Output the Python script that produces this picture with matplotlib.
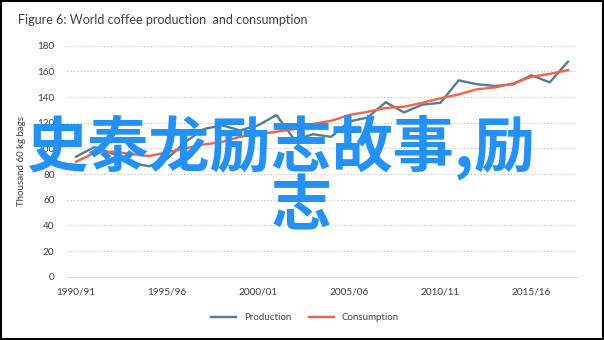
import matplotlib
matplotlib.use("Agg")
import matplotlib.pyplot as plt
import numpy as np

plt.rcParams["font.family"] = ["Lato", "DejaVu Sans"]

SEASONS = [f"{y}/{str(y + 1)[-2:]}" for y in range(1990, 2018)]
PRODUCTION = [93.5, 101, 96, 89, 86, 92, 105, 115, 118, 114, 118, 126, 106.5, 111,
              109, 121, 124, 136, 128, 134, 135.5, 153, 150, 148.6, 150, 157, 151.4, 167.5]
CONSUMPTION = [89.6, 96.5, 97.5, 95.6, 94, 97, 100, 103, 105, 109, 111, 113, 115, 119,
               121.5, 126, 128.5, 131.5, 132.4, 135.5, 139, 142, 146, 147.5, 150.7, 155.8, 158, 161]
YTICKS = [0, 20, 40, 60, 80, 100, 120, 140, 160, 180]
TICK_LABELS = ["1990/91", "1995/96", "2000/01", "2005/06", "2010/11", "2015/16"]

PROD_C, CONS_C, TXT = "#527f8e", "#f6624b", "#404040"

fig = plt.figure(figsize=(6.04, 3.4), dpi=100)
ax = fig.add_axes([67 / 604, 1 - 276.7 / 340, 510 / 604, 231 / 340])

x = np.arange(len(SEASONS))
ax.plot(x, PRODUCTION, color=PROD_C, lw=1.7, label="Production")
ax.plot(x, CONSUMPTION, color=CONS_C, lw=1.7, label="Consumption")

ax.set_xlim(-0.5, len(SEASONS) - 0.5)
ax.set_ylim(0, 180)
ax.set_yticks(YTICKS)
ax.set_xticks([SEASONS.index(t) for t in TICK_LABELS])
ax.set_xticklabels(TICK_LABELS)
ax.tick_params(length=0, labelsize=7.2, colors=TXT, pad=8)
ax.tick_params(axis="y", pad=9)
for s in ["top", "right", "left"]:
    ax.spines[s].set_visible(False)
ax.spines["bottom"].set_color("#d9d9d9")
ax.grid(axis="y", color="#bfbfbf", ls=(0, (1, 2)), lw=0.8)
ax.set_axisbelow(True)
ax.set_ylabel("Thousand 60 kg bags", fontsize=7, color=TXT, labelpad=8)

fig.text(18 / 604, 1 - 20 / 340, "Figure 6: World coffee production  and consumption",
         fontsize=9, color=TXT, va="center", ha="left")
fig.legend(loc="center", bbox_to_anchor=(0.505, 1 - 318 / 340), ncol=2, frameon=False,
           fontsize=7, handlelength=2.6, columnspacing=1.8, labelcolor=TXT)

# overlay text
cjk = ["Noto Sans CJK SC", "DejaVu Sans"]
fig.text(281 / 604, 1 - 147 / 340, "史泰龙励志故事,励", family=cjk, fontsize=44, fontweight="bold",
         color="#2391fa", ha="center", va="center")
fig.text(301 / 604, 1 - 208 / 340, "志", family=cjk, fontsize=44, fontweight="bold",
         color="#2391fa", ha="center", va="center")

fig.patches.append(plt.Rectangle((0.002, 0.003), 0.996, 0.994, transform=fig.transFigure,
                                 fill=False, ec="black", lw=1.5))
fig.savefig("out.png", dpi=100)
